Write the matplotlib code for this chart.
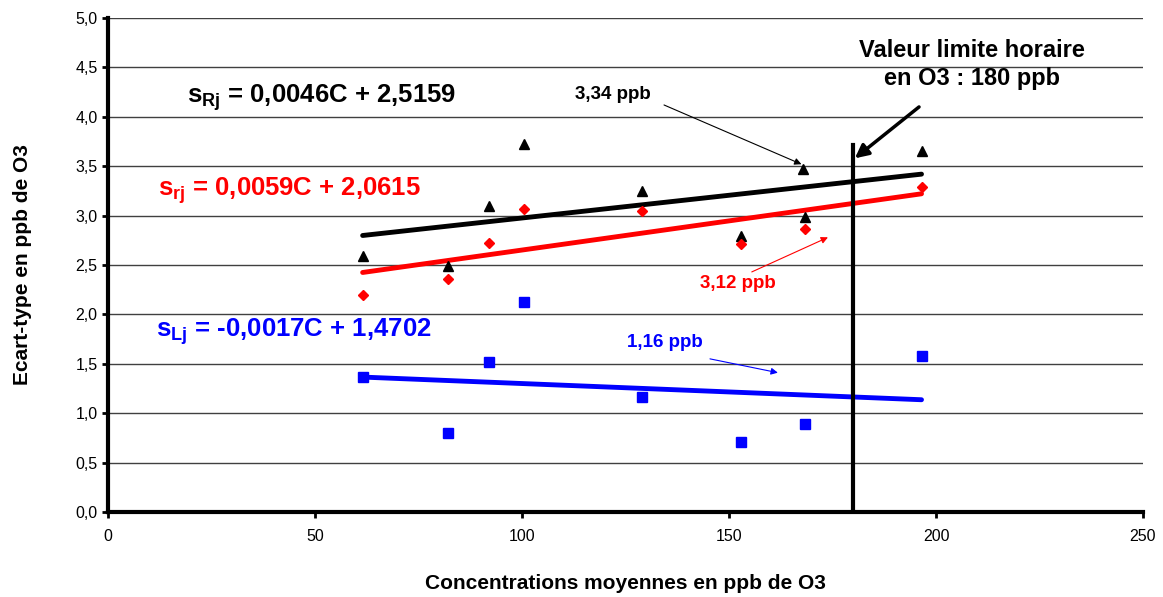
import numpy as np
import matplotlib
matplotlib.use("Agg")
import matplotlib.pyplot as plt

# ==============================================
# Data
# ==============================================
conc = [61.5, 82, 92, 100.5, 129, 153, 168.3, 196.5]
s_R = [2.59, 2.49, 3.10, 3.72, 3.25, 2.79, 2.99, 3.65]
s_r = [2.20, 2.36, 2.72, 3.07, 3.05, 2.71, 2.86, 3.29]
s_L = [1.37, 0.80, 1.52, 2.13, 1.16, 0.71, 0.89, 1.58]

# extra point marked at the annotation
extra_x = [167.9]
extra_y = [3.47]

# regression coefficients (slope, intercept)
fit_R = (0.0046, 2.5159)
fit_r = (0.0059, 2.0615)
fit_L = (-0.0017, 1.4702)

limit_x = 180
limit_top = 3.71

x_ticks = [0, 50, 100, 150, 200, 250]
y_ticks = np.arange(0, 5.01, 0.5)

plt.rcParams['font.family'] = ['Liberation Sans', 'DejaVu Sans']
plt.rcParams['mathtext.fontset'] = 'custom'
plt.rcParams['mathtext.rm'] = 'Liberation Sans:bold'
plt.rcParams['mathtext.bf'] = 'Liberation Sans:bold'
plt.rcParams['mathtext.it'] = 'Liberation Sans:bold'

fig = plt.figure(figsize=(11.63, 5.97), dpi=100)
ax = fig.add_axes([0.0929, 0.1424, 0.8899, 0.8274])

ax.set_xlim(0, 250)
ax.set_ylim(0, 5)
ax.set_xticks(x_ticks)
ax.set_yticks(y_ticks)
ax.set_yticklabels([f"{v:.1f}".replace('.', ',') for v in y_ticks])
ax.tick_params(labelsize=11.5, length=4, width=2, direction='out', colors='black')
ax.tick_params(axis='x', pad=8)

for y in y_ticks[1:]:
    ax.axhline(y, color='#404040', lw=1, zorder=1)

for side in ['top', 'right']:
    ax.spines[side].set_visible(False)
ax.spines['left'].set_linewidth(3)
ax.spines['bottom'].set_linewidth(3)

# regression lines over the data range
xs = np.array([min(conc), max(conc)])
for (a, b), col in [(fit_R, 'black'), (fit_r, 'red'), (fit_L, 'blue')]:
    ax.plot(xs, a * xs + b, color=col, lw=3.5, solid_capstyle='round', zorder=3)

ax.plot(conc, s_R, '^', color='black', ms=6.5, zorder=4)
ax.plot(extra_x, extra_y, '^', color='black', ms=6.5, zorder=4)
ax.plot(conc, s_r, 'D', color='red', ms=5.5, zorder=4)
ax.plot(conc, s_L, 's', color='blue', ms=6.5, zorder=4)

# limit value line
ax.plot([limit_x, limit_x], [0, limit_top], color='black', lw=3, zorder=5)

# equations
ax.text(19, 4.19, r"s$_{\mathbf{Rj}}$ = 0,0046C + 2,5159", fontsize=18.5,
        fontweight='bold', color='black', va='center')
ax.text(12, 3.25, r"s$_{\mathbf{rj}}$ = 0,0059C + 2,0615", fontsize=18.5,
        fontweight='bold', color='red', va='center')
ax.text(11.5, 1.83, r"s$_{\mathbf{Lj}}$ = -0,0017C + 1,4702", fontsize=18.5,
        fontweight='bold', color='blue', va='center')

# annotations
ax.text(208.6, 4.53, "Valeur limite horaire\nen O3 : 180 ppb", fontsize=17,
        fontweight='bold', ha='center', va='center', linespacing=1.25)
ax.annotate("", xy=(180.4, 3.58), xytext=(195.9, 4.10),
            arrowprops=dict(arrowstyle='-|>', color='black', lw=2.5,
                            mutation_scale=20, shrinkA=0, shrinkB=0))

ax.text(122, 4.23, "3,34 ppb", fontsize=13.5, fontweight='bold',
        ha='center', va='center')
ax.annotate("", xy=(167.5, 3.52), xytext=(134.3, 4.12),
            arrowprops=dict(arrowstyle='-|>', color='black', lw=0.8,
                            mutation_scale=10, shrinkA=0, shrinkB=0))

ax.text(152.2, 2.31, "3,12 ppb", fontsize=13.5, fontweight='bold',
        color='red', ha='center', va='center')
ax.annotate("", xy=(173.9, 2.78), xytext=(155.5, 2.43),
            arrowprops=dict(arrowstyle='-|>', color='red', lw=0.8,
                            mutation_scale=10, shrinkA=0, shrinkB=0))

ax.text(134.5, 1.72, "1,16 ppb", fontsize=13.5, fontweight='bold',
        color='blue', ha='center', va='center')
ax.annotate("", xy=(161.8, 1.41), xytext=(145.4, 1.55),
            arrowprops=dict(arrowstyle='-|>', color='blue', lw=0.8,
                            mutation_scale=10, shrinkA=0, shrinkB=0))

ax.set_xlabel("Concentrations moyennes en ppb de O3", fontsize=15,
              fontweight='bold', labelpad=22)
ax.set_ylabel("Ecart-type en ppb de O3", fontsize=15, fontweight='bold',
              labelpad=31)

fig.savefig("out.png", dpi=100)
